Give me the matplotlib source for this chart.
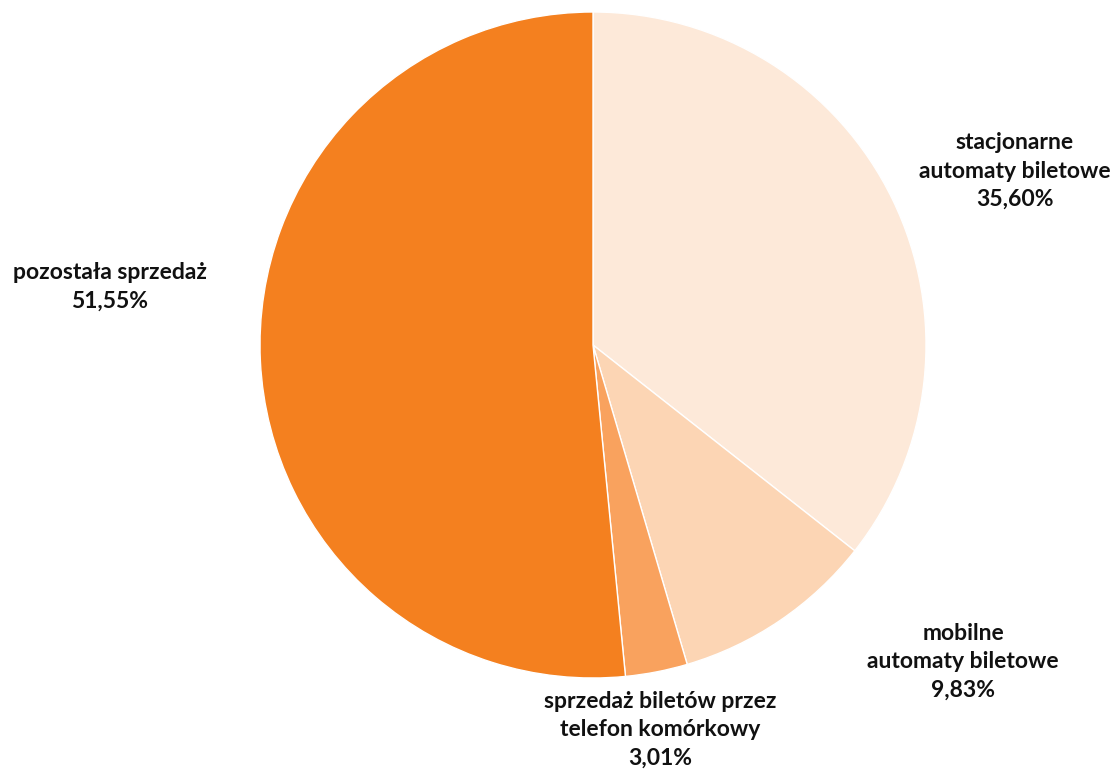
import matplotlib
matplotlib.use("Agg")
import matplotlib.pyplot as plt

categories = ["stacjonarne\nautomaty biletowe", "mobilne\nautomaty biletowe",
              "sprzedaż biletów przez\ntelefon komórkowy", "pozostała sprzedaż"]
values = [35.60, 9.83, 3.01, 51.55]
value_labels = ["35,60%", "9,83%", "3,01%", "51,55%"]
colors = ["#FDE9D9", "#FCD5B4", "#F9A25E", "#F4801F"]

W, H = 1117, 769
fig = plt.figure(figsize=(W / 100, H / 100), dpi=100)
ax = fig.add_axes([0, 0, 1, 1])

cx, cy, r = 593, H - 345, 333
ax.pie(values, colors=colors, startangle=90, counterclock=False,
       center=(cx, cy), radius=r, frame=True,
       wedgeprops=dict(edgecolor="white", linewidth=1))
ax.set_xlim(0, W)
ax.set_ylim(0, H)
ax.set_aspect("equal")
ax.axis("off")

label_pos = [(1015, H - 171), (963, H - 662), (660, H - 730), (110, H - 287)]
for cat, vl, (x, y) in zip(categories, value_labels, label_pos):
    ax.text(x, y, cat + "\n" + vl, ha="center", va="center",
            fontsize=16.5, fontweight="bold", family=["Lato", "DejaVu Sans"],
            color="#111111", linespacing=1.45)

fig.savefig("out.png", dpi=100)
